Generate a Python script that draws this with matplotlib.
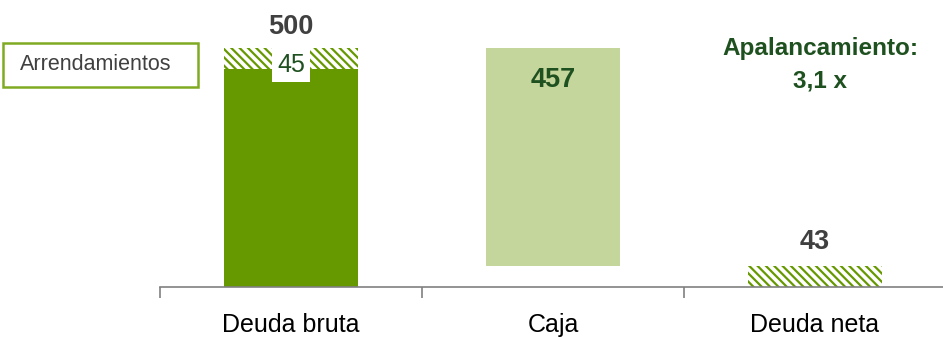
import matplotlib
matplotlib.use("Agg")
import matplotlib.pyplot as plt
from matplotlib.patches import Rectangle
import matplotlib.transforms as mtransforms

plt.rcParams["font.family"] = ["Liberation Sans Narrow", "Liberation Sans", "DejaVu Sans"]
plt.rcParams["hatch.linewidth"] = 1.6

# Deuda (millones)
categorias = ["Deuda bruta", "Caja", "Deuda neta"]
deuda_bruta = 500
arrendamientos = 45
caja = 457
deuda_neta = 43
apalancamiento = "3,1 x"

verde = "#669900"
verde_claro = "#C4D69C"
verde_texto = "#1F5120"
gris_texto = "#404040"
rayado = "\\\\\\\\"

fig = plt.figure(figsize=(9.43, 3.37), dpi=100)
ax = fig.add_axes([160 / 943, 50 / 337, 786 / 943, 287 / 337])

x = list(range(len(categorias)))
ancho = 0.51

# Deuda bruta: parte sin arrendamientos + arrendamientos rayados
ax.bar(x[0], deuda_bruta - arrendamientos, width=ancho, color=verde, linewidth=0)
ax.bar(x[0], arrendamientos, bottom=deuda_bruta - arrendamientos, width=ancho,
       color="white", edgecolor=verde, hatch=rayado, linewidth=0)

# Caja flotante
ax.bar(x[1], caja, bottom=deuda_bruta - caja, width=ancho, color=verde_claro, linewidth=0)

# Deuda neta (rayada)
ax.bar(x[2], deuda_neta, width=ancho, color="white", edgecolor=verde,
       hatch=rayado, linewidth=0)

# Etiquetas de valores
ax.annotate(f"{deuda_bruta}", (x[0], deuda_bruta), xytext=(0, 6), textcoords="offset points",
            ha="center", va="bottom", fontsize=19.5, fontweight="bold", color=gris_texto)
ax.annotate(f"{arrendamientos}", (x[0], deuda_bruta), xytext=(0, -4), textcoords="offset points",
            ha="center", va="top", fontsize=18, color=verde_texto,
            bbox=dict(boxstyle="square,pad=0.2", facecolor="white", edgecolor="none"))
ax.annotate(f"{caja}", (x[1], deuda_bruta), xytext=(0, -14), textcoords="offset points",
            ha="center", va="top", fontsize=19.5, fontweight="bold", color=verde_texto)
ax.annotate(f"{deuda_neta}", (x[2], deuda_neta), xytext=(0, 8), textcoords="offset points",
            ha="center", va="bottom", fontsize=19.5, fontweight="bold", color=gris_texto)

trans = mtransforms.blended_transform_factory(ax.transData, ax.transAxes)
ax.text(x[2] + 0.02, 0.775, "Apalancamiento:\n" + apalancamiento, transform=trans,
        ha="center", va="center", fontsize=17.5, fontweight="bold", color=verde_texto,
        linespacing=1.55)

ax.set_xlim(-0.5, 2.5)
ax.set_ylim(0, 600)
ax.set_yticks([])
ax.set_xticks(x)
ax.set_xticklabels(categorias, fontsize=18, color="black")
ax.tick_params(axis="x", which="major", length=0, pad=19)
ax.set_xticks([-0.5, 0.5, 1.5], minor=True)
ax.tick_params(axis="x", which="minor", length=8, width=1.2, color="#808080", direction="out")
for lado in ["top", "right", "left"]:
    ax.spines[lado].set_visible(False)
ax.spines["bottom"].set_color("#808080")
ax.spines["bottom"].set_linewidth(1.2)

# Leyenda de arrendamientos
fig.patches.append(Rectangle((3 / 943, 1 - 87 / 337), 195 / 943, 44 / 337,
                             transform=fig.transFigure, facecolor="white",
                             edgecolor="#7FAA22", linewidth=1.8))
fig.text(96 / 943, 1 - 64 / 337, "Arrendamientos", ha="center", va="center",
         fontsize=15.5, color="#404040", family=["Liberation Sans", "DejaVu Sans"])

fig.savefig("out.png", dpi=100)
